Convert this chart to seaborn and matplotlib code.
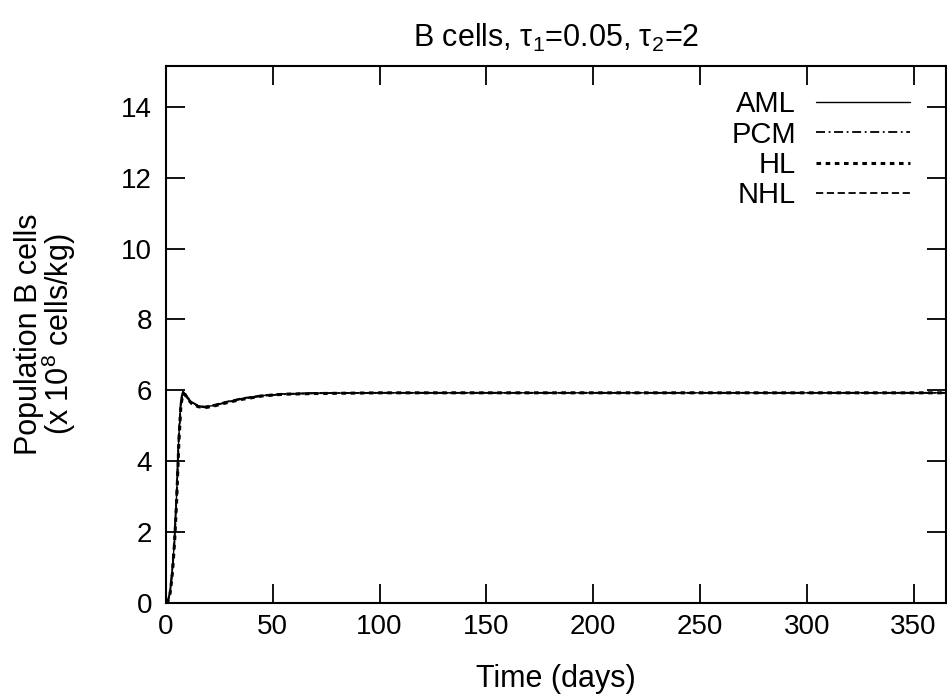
import numpy as np
import pandas as pd
import seaborn as sns
import matplotlib
matplotlib.use('Agg')
import matplotlib.pyplot as plt

# time points (days) and population values (x 10^8 cells/kg)
days = [0, 1, 2, 3, 4, 5, 6, 7, 8, 9, 10, 12, 15, 18, 22, 27, 35, 45, 55, 70, 100, 150, 200, 250, 300, 365]
aml = [0.0, 0.08, 0.35, 0.95, 1.8, 3.1, 4.7, 5.7, 5.97, 5.9, 5.8, 5.66, 5.56, 5.53, 5.57, 5.65, 5.76, 5.85, 5.9, 5.92, 5.93, 5.93, 5.93, 5.93, 5.93, 5.93]
pcm = [0.0, 0.07, 0.33, 0.9, 1.75, 3.0, 4.6, 5.65, 5.93, 5.88, 5.78, 5.64, 5.55, 5.52, 5.56, 5.64, 5.75, 5.84, 5.89, 5.92, 5.93, 5.93, 5.93, 5.93, 5.93, 5.93]
hl = [0.0, 0.06, 0.3, 0.85, 1.7, 2.9, 4.5, 5.6, 5.9, 5.87, 5.77, 5.63, 5.54, 5.51, 5.55, 5.63, 5.74, 5.84, 5.89, 5.91, 5.93, 5.93, 5.93, 5.93, 5.93, 5.93]
nhl = [0.0, 0.09, 0.38, 1.0, 1.85, 3.2, 4.8, 5.75, 5.98, 5.91, 5.81, 5.67, 5.57, 5.54, 5.58, 5.66, 5.77, 5.86, 5.9, 5.92, 5.93, 5.93, 5.93, 5.93, 5.93, 5.93]
names = ['AML', 'PCM', 'HL', 'NHL']

df = pd.DataFrame({
    'days': days * 4,
    'value': aml + pcm + hl + nhl,
    'model': sum([[n] * len(days) for n in names], []),
})

sns.set_style('ticks')
plt.rcParams['font.family'] = ['Liberation Sans', 'DejaVu Sans']
plt.rcParams['mathtext.fontset'] = 'custom'
plt.rcParams['mathtext.rm'] = 'Liberation Sans'
plt.rcParams['mathtext.default'] = 'regular'
plt.rcParams['text.color'] = 'black'
plt.rcParams['axes.labelcolor'] = 'black'
plt.rcParams['xtick.color'] = 'black'
plt.rcParams['ytick.color'] = 'black'
plt.rcParams['axes.edgecolor'] = 'black'

fig = plt.figure(figsize=(9.47, 6.98), dpi=100)
ax = fig.add_axes([0.1753, 0.1361, 0.8233, 0.7693])

dashes = {'AML': '', 'PCM': (5, 2, 1, 2), 'HL': (1.5, 1.5), 'NHL': (4, 2)}
widths = {'AML': 1.0, 'PCM': 1.3, 'HL': 2.2, 'NHL': 1.3}
sns.lineplot(data=df, x='days', y='value', hue='model', style='model',
             palette={n: 'black' for n in names}, dashes=dashes, ax=ax,
             legend=False, estimator=None)
for line, n in zip(ax.get_lines(), names):
    line.set_linewidth(widths[n])
    line.set_label(n)

ax.set_xlim(0, 365)
ax.set_ylim(0, 15.15)
ax.set_xticks(range(0, 351, 50))
ax.set_yticks(range(0, 15, 2))
ax.tick_params(direction='in', length=14, width=1.3, labelsize=20, top=True, right=True, pad=8)
ax.tick_params(axis='y', pad=10)
for s in ax.spines.values():
    s.set_linewidth(1.5)
    s.set_visible(True)

ax.set_xlabel('Time (days)', fontsize=22, labelpad=17)
ax.set_ylabel('Population B cells\n(x 10$^8$ cells/kg)', fontsize=22, labelpad=31, linespacing=0.85)
ax.set_title('B cells, τ$_1$=0.05, τ$_2$=2', fontsize=22, pad=14)

ax.legend(loc='upper right', frameon=False, markerfirst=False, fontsize=21,
          handlelength=3.2, labelspacing=0.08, handletextpad=0.7,
          borderaxespad=0.3, bbox_to_anchor=(0.98, 0.993))

fig.savefig('out.png', dpi=100)
